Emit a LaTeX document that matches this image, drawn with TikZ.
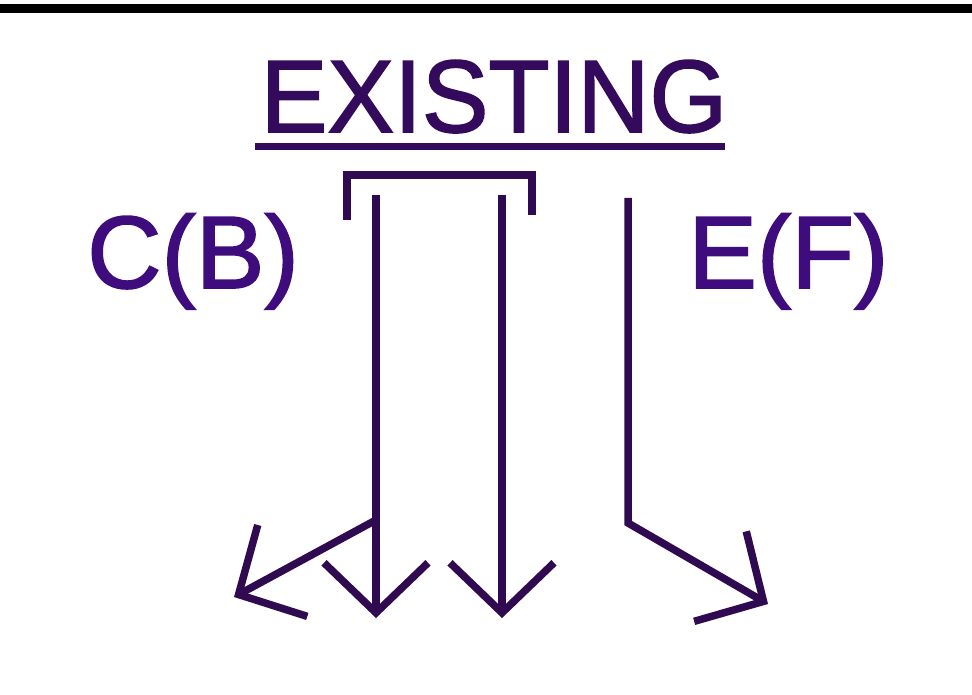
\documentclass[tikz,border=0pt]{standalone}
\usepackage{fontspec}
\setmainfont{Liberation Sans}
\newfontfamily\heavysans[FakeBold=1.6]{Liberation Sans}
\usepackage{tikz}
\usetikzlibrary{arrows.meta}
\usepackage{xcolor}

\definecolor{flowink}{RGB}{48,10,80}
\definecolor{labelink}{RGB}{62,12,125}
\definecolor{titleink}{RGB}{52,10,92}

\tikzset{
  flowline/.style={draw=flowink, line width=7.5pt},
  flowarrow/.style={flowline, -{Straight Barb[length=50pt, width=104pt, sharp]}},
  bigtext/.style={inner sep=0pt, font=\heavysans\fontsize{103}{110}\selectfont}
}

\begin{document}
\begin{tikzpicture}[x=1pt, y=-1pt]

\useasboundingbox (0,0) rectangle (972,695);
\fill[black] (0,4) rectangle (972,13);

% title
\node[bigtext, text=titleink, anchor=base, xscale=0.97] (existing) at (494,132) {EXISTING};
\draw[draw=titleink, line width=7pt] (255,147) -- (725,147);

% side labels
\node[bigtext, text=labelink, anchor=base west] (labelCB) at (87,288) {C(B)};
\node[bigtext, text=labelink, anchor=base west] (labelEF) at (688,288) {E(F)};

% bracket over the two left lines
\draw[flowline] (347,220) -- (347,175) -- (532,175) -- (532,215);

\coordinate (leftTop) at (376,195);
\coordinate (leftEnd) at (376,618);
\coordinate (leftFork) at (376,520);
\coordinate (leftTip) at (234,597);

\coordinate (midTop) at (502,195);
\coordinate (midEnd) at (502,618);

\coordinate (rightTop) at (628,198);
\coordinate (rightBend) at (628,523);
\coordinate (rightTip) at (768,604);

\draw[flowarrow] (leftTop) -- (leftEnd);
\draw[flowarrow] (leftFork) -- (leftTip);
\draw[flowarrow] (midTop) -- (midEnd);
\draw[flowarrow] (rightTop) -- (rightBend) -- (rightTip);

\end{tikzpicture}
\end{document}
